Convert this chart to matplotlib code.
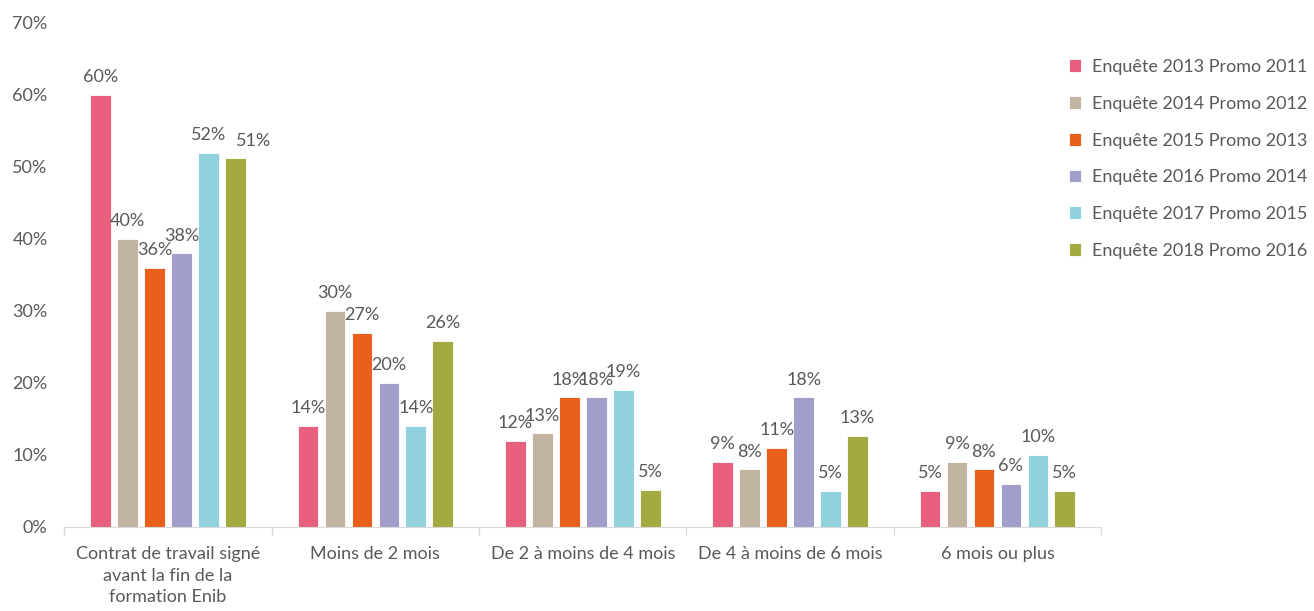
import matplotlib.pyplot as plt
import numpy as np

plt.rcParams['font.family'] = ['Lato', 'DejaVu Sans']

# categories on the x axis
categories = ['Contrat de travail signé\navant la fin de la\nformation Enib',
              'Moins de 2 mois',
              'De 2 à moins de 4 mois',
              'De 4 à moins de 6 mois',
              '6 mois ou plus']

# series names
series_names = ['Enquête 2013 Promo 2011', 'Enquête 2014 Promo 2012',
                'Enquête 2015 Promo 2013', 'Enquête 2016 Promo 2014',
                'Enquête 2017 Promo 2015', 'Enquête 2018 Promo 2016']

# values (fractions) per series, one per category
promo_2011 = [0.60, 0.14, 0.12, 0.09, 0.05]
promo_2012 = [0.40, 0.30, 0.13, 0.08, 0.09]
promo_2013 = [0.36, 0.27, 0.18, 0.11, 0.08]
promo_2014 = [0.38, 0.20, 0.18, 0.18, 0.06]
promo_2015 = [0.52, 0.14, 0.19, 0.05, 0.10]
promo_2016 = [0.512, 0.258, 0.052, 0.127, 0.05]

colors = ['#E8607D', '#C1B4A0', '#E8601C', '#A19FC9', '#8FD2DE', '#A3AA3F']
txt = '#595959'

all_series = [promo_2011, promo_2012, promo_2013, promo_2014, promo_2015, promo_2016]

# labels pushed sideways like in the original (series, category) -> points
nudge = {(5, 0): 13}

fig = plt.figure(figsize=(13.14, 6.11), dpi=100)
ax = fig.add_axes([0.049, 0.1375, 0.789, 0.825])

x = np.arange(len(categories))
pitch = 0.13
width = 0.10
for i, vals in enumerate(all_series):
    pos = x + (i - 2.5) * pitch
    ax.bar(pos, vals, width, color=colors[i], label=series_names[i],
           edgecolor='white', linewidth=0.6)
    for j, (p, v) in enumerate(zip(pos, vals)):
        ax.annotate('{:.0f}%'.format(v * 100), (p, v), xytext=(nudge.get((i, j), 0), 7),
                    textcoords='offset points', ha='center', va='bottom',
                    fontsize=13, color=txt)

ax.set_xlim(-0.5, len(categories) - 0.5)
ax.set_ylim(0, 0.7)
ax.set_yticks(np.arange(0, 0.71, 0.1))
ax.set_yticklabels(['{:.0f}%'.format(t * 100) for t in np.arange(0, 0.71, 0.1)])

ax.set_xticks(x)
ax.set_xticklabels(categories, fontsize=13, color=txt, linespacing=1.4)
ax.set_xticks(np.arange(-0.5, len(categories)), minor=True)
ax.tick_params(axis='x', which='major', length=0, pad=14)
ax.tick_params(axis='x', which='minor', length=6, color='#D9D9D9', width=1)
ax.tick_params(axis='y', length=0, labelsize=13, labelcolor=txt, pad=12)

for s in ['top', 'right', 'left']:
    ax.spines[s].set_visible(False)
ax.spines['bottom'].set_color('#D9D9D9')

fig.legend(loc='upper left', bbox_to_anchor=(0.801, 0.93), frameon=False,
           fontsize=13, labelcolor=txt, handlelength=0.7, handleheight=0.7,
           handletextpad=0.6, labelspacing=1.15)

plt.savefig('out.png', dpi=100)
